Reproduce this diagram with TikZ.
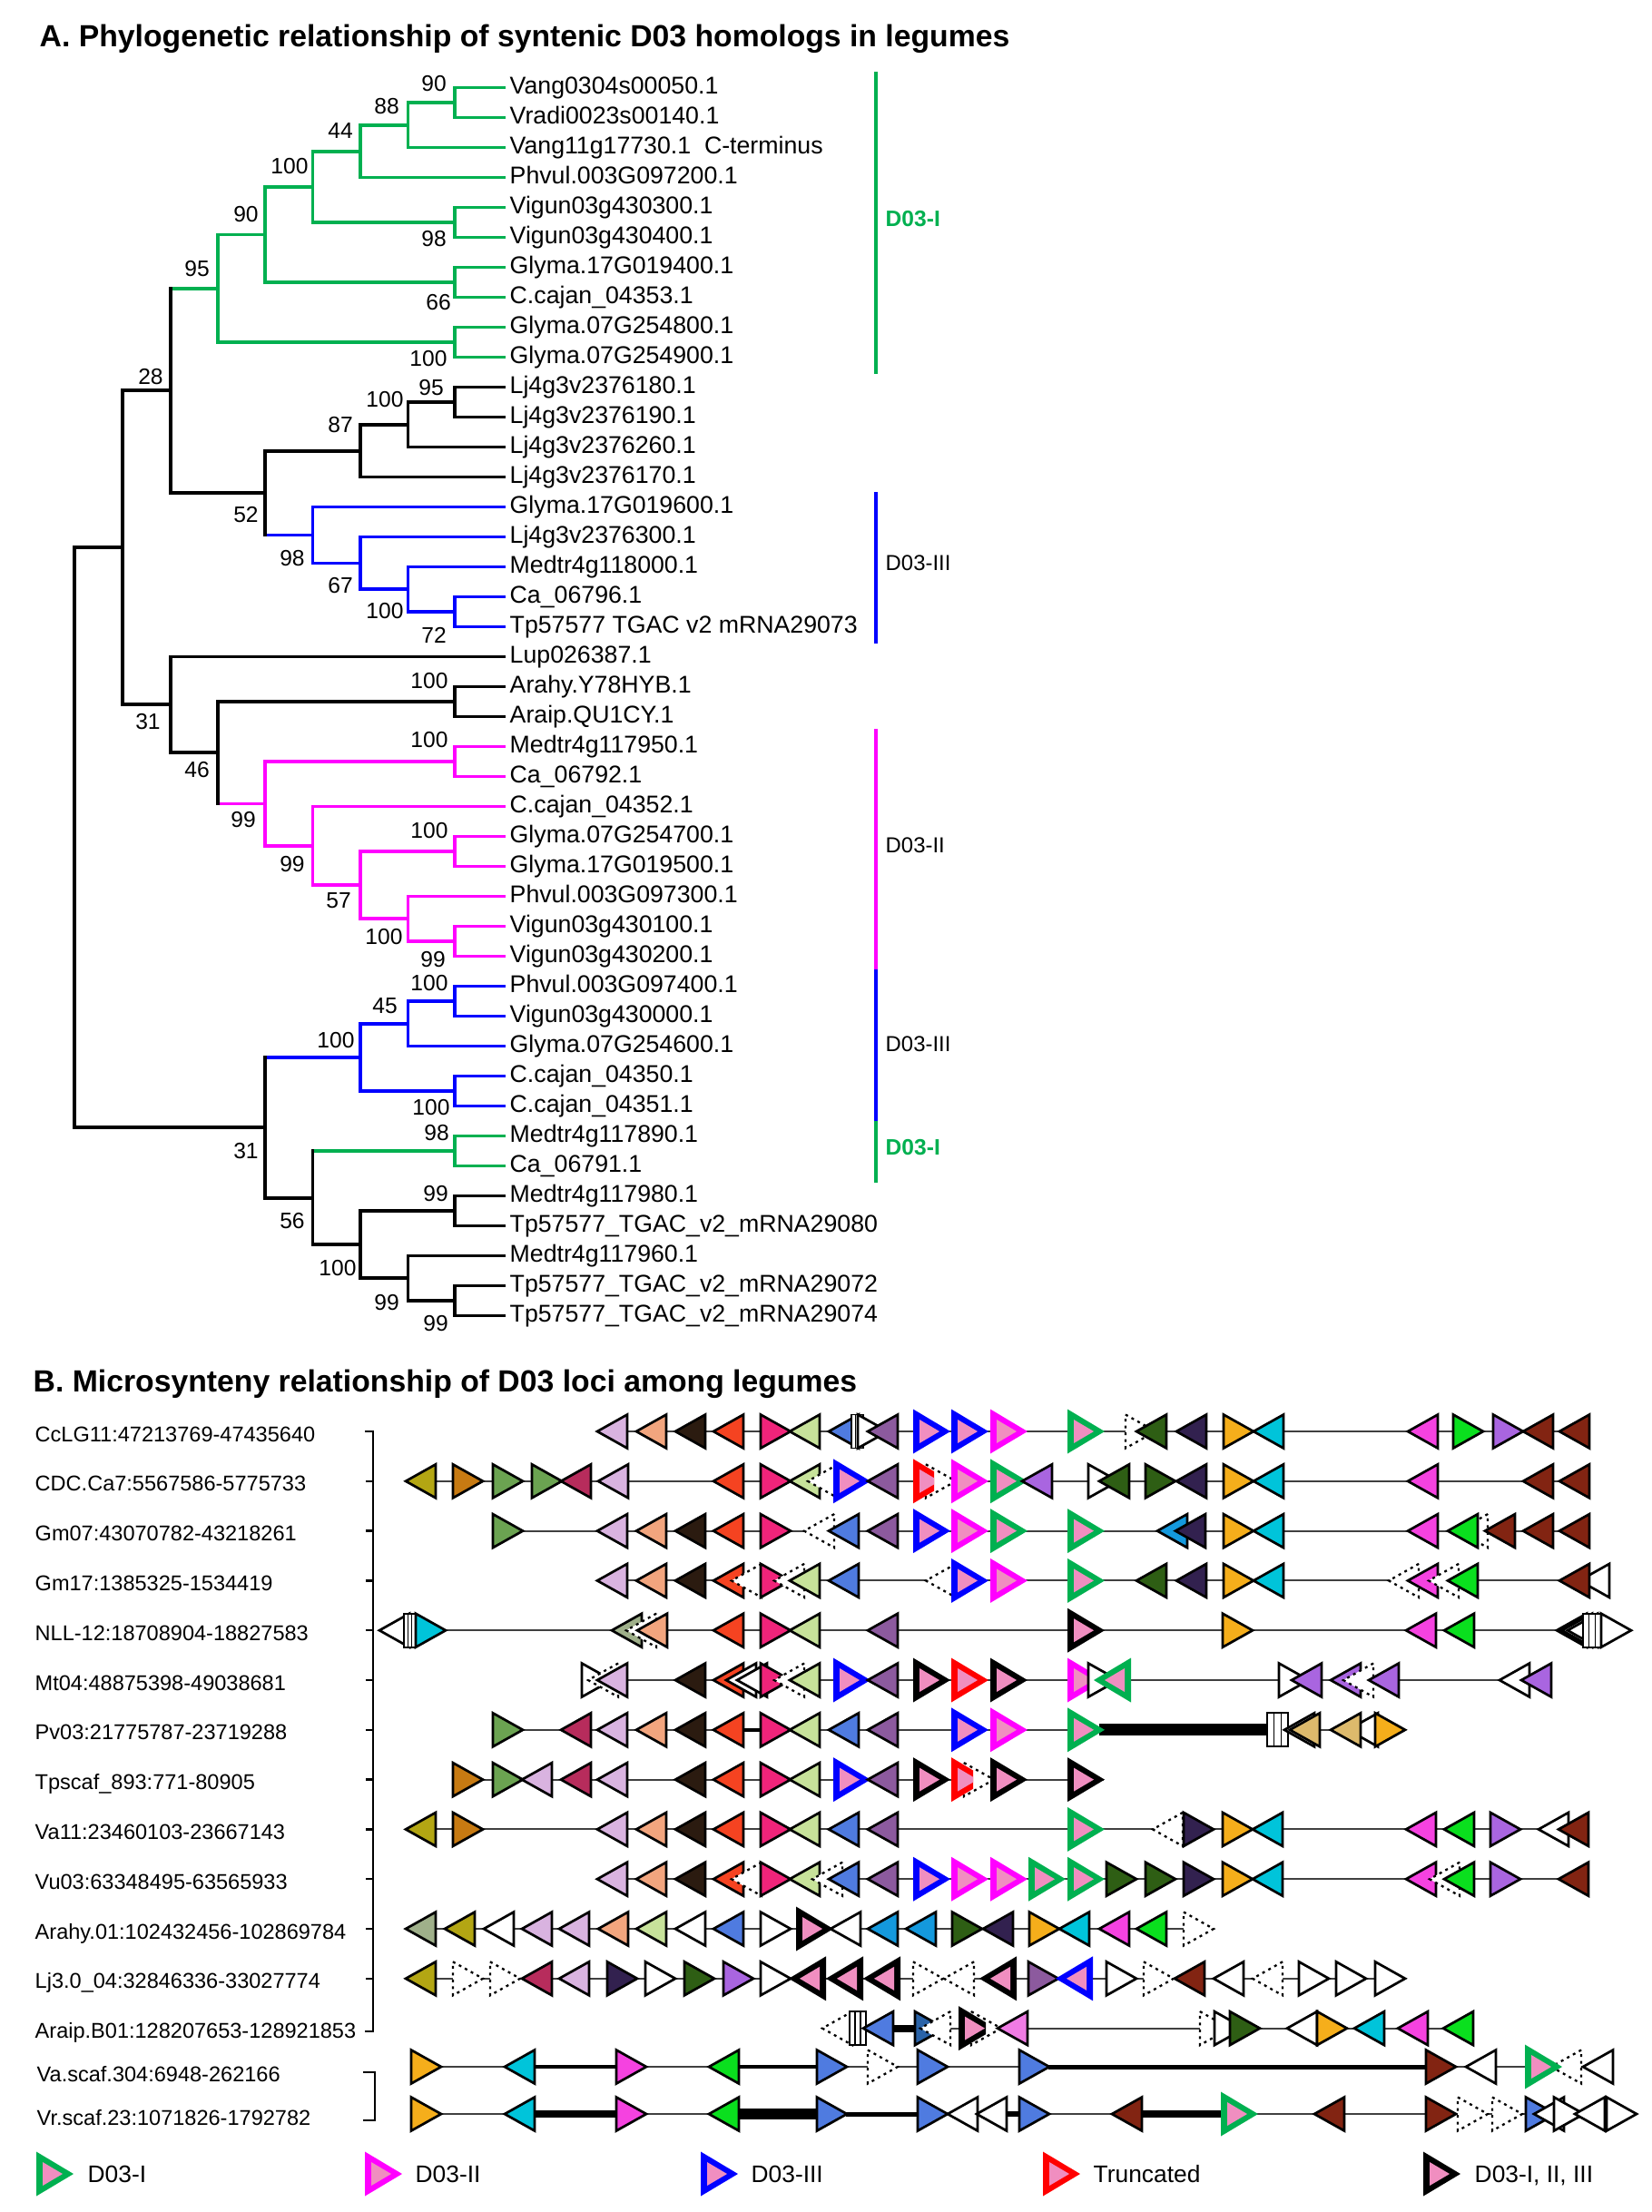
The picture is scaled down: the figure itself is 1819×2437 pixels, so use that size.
\documentclass[tikz,border=0pt]{standalone}
\usepackage{fontspec}
\setmainfont{Liberation Sans}
\usetikzlibrary{calc}
\definecolor{tk}{HTML}{000000}
\definecolor{tg}{HTML}{00B050}
\definecolor{tb}{HTML}{0000FF}
\definecolor{tm}{HTML}{FF00FF}
\definecolor{qred}{HTML}{FF0000}
\definecolor{qpink}{HTML}{F08EC0}
\definecolor{clilac}{HTML}{D9B3E0}
\definecolor{csalmon}{HTML}{F2A57E}
\definecolor{cdbrown}{HTML}{2B1B10}
\definecolor{credor}{HTML}{F54321}
\definecolor{cdeeppink}{HTML}{F0247A}
\definecolor{clgreen}{HTML}{C7E29A}
\definecolor{ccorn}{HTML}{4F7BE0}
\definecolor{cmauve}{HTML}{8C5A9E}
\definecolor{cdgreen}{HTML}{2E5E14}
\definecolor{cdpurple}{HTML}{32214F}
\definecolor{corange}{HTML}{F5AE1B}
\definecolor{ccyan}{HTML}{00C4DA}
\definecolor{cpmag}{HTML}{F542E0}
\definecolor{cgreen}{HTML}{0ADF1E}
\definecolor{cviolet}{HTML}{A965E0}
\definecolor{cdred}{HTML}{822412}
\definecolor{colive}{HTML}{B3A613}
\definecolor{cochre}{HTML}{C77A12}
\definecolor{cmgreen}{HTML}{6BA351}
\definecolor{ccrimson}{HTML}{B72C5C}
\definecolor{csage}{HTML}{9FB08A}
\definecolor{ctan}{HTML}{DDBA6C}
\definecolor{cazure}{HTML}{1499DD}
\definecolor{csteel}{HTML}{2A63A8}
\definecolor{corchid}{HTML}{F07BE4}
\tikzset{
 tl/.style={line width=0.38mm, line cap=rect},
 gene/.style={draw=black, line width=0.27mm, line join=miter},
 dgene/.style={draw=black, fill=white, line width=0.23mm, dash pattern=on 0.3mm off 0.45mm},
 trk/.style={draw=black!75, line width=0.2mm},
 brk/.style={draw=black, line width=0.25mm},
 leaflab/.style={anchor=base west, inner sep=0pt, font=\fontsize{7.6}{9}\selectfont},
 bs/.style={inner sep=0pt, font=\fontsize{7}{8}\selectfont},
 clab/.style={anchor=west, inner sep=0pt, font=\fontsize{6.8}{8}\selectfont},
 rlab/.style={anchor=base west, inner sep=0pt, font=\fontsize{6.7}{8}\selectfont},
 leg/.style={anchor=base west, inner sep=0pt, font=\fontsize{7.5}{9}\selectfont},
 ttl/.style={anchor=base west, inner sep=0pt, font=\fontsize{9.6}{11}\selectfont\bfseries},
}
\newcommand\GR[2]{\draw[gene,fill=#2] (#1,\ry-18.5) -- (#1+33,\ry) -- (#1,\ry+18.5) -- cycle;}
\newcommand\GL[2]{\draw[gene,fill=#2] (#1+33,\ry-18.5) -- (#1,\ry) -- (#1+33,\ry+18.5) -- cycle;}
\newcommand\DR[1]{\draw[dgene] (#1,\ry-18.5) -- (#1+33,\ry) -- (#1,\ry+18.5) -- cycle;}
\newcommand\DL[1]{\draw[dgene] (#1+33,\ry-18.5) -- (#1,\ry) -- (#1+33,\ry+18.5) -- cycle;}
\newcommand\QR[2]{\fill[#2] (#1,\ry-24.5) -- (#1+41,\ry) -- (#1,\ry+24.5) -- cycle; \fill[qpink] (#1+7,\ry-13) -- (#1+29,\ry) -- (#1+7,\ry+13) -- cycle;}
\newcommand\QL[2]{\fill[#2] (#1+41,\ry-24.5) -- (#1,\ry) -- (#1+41,\ry+24.5) -- cycle; \fill[qpink] (#1+34,\ry-13) -- (#1+12,\ry) -- (#1+34,\ry+13) -- cycle;}
\newcommand\QRc[3]{\begin{scope}\clip (#1-2,\ry-30) rectangle (#1+#3,\ry+30); \QR{#1}{#2}\end{scope}}
\newcommand\VB[2]{\draw[gene,fill=white,line width=0.18mm] (#1,\ry-18.5) rectangle (#2,\ry+18.5); \draw[line width=0.15mm] ({(2*#1+#2)/3},\ry-18.5) -- ({(2*#1+#2)/3},\ry+18.5) ({(#1+2*#2)/3},\ry-18.5) -- ({(#1+2*#2)/3},\ry+18.5);}
\newcommand\TrkLn[2]{\draw[trk] (#1,\ry) -- (#2,\ry);}
\newcommand\BarThk[3]{\draw[line width=#3mm] (#1,\ry) -- (#2,\ry);}
\newcommand\edgelist{%
\EdgeX{root}{nA}{tk}{tk}\EdgeX{root}{n31b}{tk}{tk}
\EdgeX{nA}{n28}{tk}{tk}\EdgeX{nA}{n31a}{tk}{tk}
\EdgeX{n28}{n95}{tk}{tg}\EdgeX{n28}{n52}{tk}{tk}
\EdgeX{n95}{n90b}{tg}{tg}\EdgeX{n95}{n100b}{tg}{tg}
\EdgeX{n90b}{n100a}{tg}{tg}\EdgeX{n90b}{n66}{tg}{tg}
\EdgeX{n100a}{n44}{tg}{tg}\EdgeX{n100a}{n98a}{tg}{tg}
\EdgeX{n44}{n88}{tg}{tg}\EdgeX{n44}{t3}{tg}{tg}
\EdgeX{n88}{n90a}{tg}{tg}\EdgeX{n88}{t2}{tg}{tg}
\EdgeX{n90a}{t0}{tg}{tg}\EdgeX{n90a}{t1}{tg}{tg}
\EdgeX{n98a}{t4}{tg}{tg}\EdgeX{n98a}{t5}{tg}{tg}
\EdgeX{n66}{t6}{tg}{tg}\EdgeX{n66}{t7}{tg}{tg}
\EdgeX{n100b}{t8}{tg}{tg}\EdgeX{n100b}{t9}{tg}{tg}
\EdgeX{n52}{n87}{tk}{tk}\EdgeX{n52}{n98b}{tk}{tb}
\EdgeX{n87}{n100c}{tk}{tk}\EdgeX{n87}{t13}{tk}{tk}
\EdgeX{n100c}{n95b}{tk}{tk}\EdgeX{n100c}{t12}{tk}{tk}
\EdgeX{n95b}{t10}{tk}{tk}\EdgeX{n95b}{t11}{tk}{tk}
\EdgeX{n98b}{t14}{tb}{tb}\EdgeX{n98b}{n67}{tb}{tb}
\EdgeX{n67}{t15}{tb}{tb}\EdgeX{n67}{n100d}{tb}{tb}
\EdgeX{n100d}{t16}{tb}{tb}\EdgeX{n100d}{n72}{tb}{tb}
\EdgeX{n72}{t17}{tb}{tb}\EdgeX{n72}{t18}{tb}{tb}
\EdgeX{n31a}{t19}{tk}{tk}\EdgeX{n31a}{n46}{tk}{tk}
\EdgeX{n46}{n100e}{tk}{tk}\EdgeX{n46}{n99a}{tk}{tm}
\EdgeX{n100e}{t20}{tk}{tk}\EdgeX{n100e}{t21}{tk}{tk}
\EdgeX{n99a}{n100f}{tm}{tm}\EdgeX{n99a}{n99b}{tm}{tm}
\EdgeX{n100f}{t22}{tm}{tm}\EdgeX{n100f}{t23}{tm}{tm}
\EdgeX{n99b}{t24}{tm}{tm}\EdgeX{n99b}{n57}{tm}{tm}
\EdgeX{n57}{n100g}{tm}{tm}\EdgeX{n57}{n100h}{tm}{tm}
\EdgeX{n100g}{t25}{tm}{tm}\EdgeX{n100g}{t26}{tm}{tm}
\EdgeX{n100h}{t27}{tm}{tm}\EdgeX{n100h}{n99c}{tm}{tm}
\EdgeX{n99c}{t28}{tm}{tm}\EdgeX{n99c}{t29}{tm}{tm}
\EdgeX{n31b}{n100k}{tk}{tb}\EdgeX{n31b}{n56}{tk}{tk}
\EdgeX{n100k}{n45}{tb}{tb}\EdgeX{n100k}{n100j}{tb}{tb}
\EdgeX{n45}{n100i}{tb}{tb}\EdgeX{n45}{t32}{tb}{tb}
\EdgeX{n100i}{t30}{tb}{tb}\EdgeX{n100i}{t31}{tb}{tb}
\EdgeX{n100j}{t33}{tb}{tb}\EdgeX{n100j}{t34}{tb}{tb}
\EdgeX{n56}{n98c}{tk}{tg}\EdgeX{n56}{n100l}{tk}{tk}
\EdgeX{n98c}{t35}{tg}{tg}\EdgeX{n98c}{t36}{tg}{tg}
\EdgeX{n100l}{n99d}{tk}{tk}\EdgeX{n100l}{n99e}{tk}{tk}
\EdgeX{n99d}{t37}{tk}{tk}\EdgeX{n99d}{t38}{tk}{tk}
\EdgeX{n99e}{t39}{tk}{tk}\EdgeX{n99e}{n99f}{tk}{tk}
\EdgeX{n99f}{t40}{tk}{tk}\EdgeX{n99f}{t41}{tk}{tk}}
\begin{document}
\begin{tikzpicture}[x=0.1mm,y=-0.1mm]
\useasboundingbox (0,0) rectangle (1819,2437);
\fill[white] (0,0) rectangle (1819,2437);
% ---------------- Part A ----------------
\node[ttl] (titleA) at (43,52) {A. Phylogenetic relationship of syntenic D03 homologs in legumes};
\foreach \i in {0,...,41} \coordinate (t\i) at (555,96.5+33*\i);
\coordinate (root) at (82,922.8);
\coordinate (nA) at (135,603.35);
\coordinate (n28) at (188,430.35);
\coordinate (n95) at (240,317.7);
\coordinate (n90b) at (292,258.41);
\coordinate (n100a) at (344.5,205.81);
\coordinate (n44) at (397,166.63);
\coordinate (n88) at (449.5,137.75);
\coordinate (n90a) at (501,113);
\coordinate (n98a) at (501,245);
\coordinate (n66) at (501,311);
\coordinate (n100b) at (501,377);
\coordinate (n52) at (292,543);
\coordinate (n87) at (397,496.6);
\coordinate (n100c) at (449.5,467.75);
\coordinate (n95b) at (501,443);
\coordinate (n98b) at (344.5,589.4);
\coordinate (n67) at (397,620.4);
\coordinate (n100d) at (449.5,649.25);
\coordinate (n72) at (501,674);
\coordinate (n31a) at (188,776.35);
\coordinate (n46) at (240,829.2);
\coordinate (n100e) at (501,773);
\coordinate (n99a) at (292,885.4);
\coordinate (n100f) at (501,839);
\coordinate (n99b) at (344.5,931.8);
\coordinate (n57) at (397,975.1);
\coordinate (n100g) at (501,938);
\coordinate (n100h) at (449.5,1012.25);
\coordinate (n99c) at (501,1037);
\coordinate (n31b) at (292,1242.25);
\coordinate (n100k) at (397,1164.9);
\coordinate (n45) at (449.5,1127.75);
\coordinate (n100i) at (501,1103);
\coordinate (n100j) at (501,1202);
\coordinate (n56) at (344.5,1319.6);
\coordinate (n98c) at (501,1268);
\coordinate (n100l) at (397,1371.1);
\coordinate (n99d) at (501,1334);
\coordinate (n99e) at (449.5,1408.25);
\coordinate (n99f) at (501,1433);
\def\EdgeX#1#2#3#4{\draw[tl,#4] (#1 |- #2) -- (#2);}
\edgelist
\def\EdgeX#1#2#3#4{\draw[tl,#3] (#1) -- (#1 |- #2);}
\edgelist
\foreach \i/\t in {0/Vang0304s00050.1,1/Vradi0023s00140.1,2/Vang11g17730.1\ \ C-terminus,3/Phvul.003G097200.1,4/Vigun03g430300.1,5/Vigun03g430400.1,6/Glyma.17G019400.1,7/C.cajan\_04353.1,8/Glyma.07G254800.1,9/Glyma.07G254900.1,10/Lj4g3v2376180.1,11/Lj4g3v2376190.1,12/Lj4g3v2376260.1,13/Lj4g3v2376170.1,14/Glyma.17G019600.1,15/Lj4g3v2376300.1,16/Medtr4g118000.1,17/Ca\_06796.1,18/Tp57577 TGAC v2 mRNA29073,19/Lup026387.1,20/Arahy.Y78HYB.1,21/Araip.QU1CY.1,22/Medtr4g117950.1,23/Ca\_06792.1,24/C.cajan\_04352.1,25/Glyma.07G254700.1,26/Glyma.17G019500.1,27/Phvul.003G097300.1,28/Vigun03g430100.1,29/Vigun03g430200.1,30/Phvul.003G097400.1,31/Vigun03g430000.1,32/Glyma.07G254600.1,33/C.cajan\_04350.1,34/C.cajan\_04351.1,35/Medtr4g117890.1,36/Ca\_06791.1,37/Medtr4g117980.1,38/Tp57577\_TGAC\_v2\_mRNA29080,39/Medtr4g117960.1,40/Tp57577\_TGAC\_v2\_mRNA29072,41/Tp57577\_TGAC\_v2\_mRNA29074}
  \node[leaflab] (l\i) at ($(t\i)+(6,7)$) {\t};
\foreach \x/\y/\v [count=\n] in {478/92/90,426/117/88,375/144/44,319/183/100,271/236/90,217/296/95,478/263/98,483/333/66,472/395/100,166/415/28,475/427/95,424/440/100,375/468/87,271/567/52,322/615/98,375/645/67,424/673/100,478/700/72,473/750/100,163/795/31,473/815/100,217/848/46,268/903/99,473/915/100,322/952/99,373/992/57,423/1032/100,477/1057/99,473/1083/100,424/1108/45,370/1146/100,475/1220/100,481/1248/98,271/1268/31,480/1315/99,322/1345/56,372/1397/100,426/1435/99,480/1458/99}
  \node[bs] (b\n) at (\x,\y) {\v};
% clade bars
\draw[tg,line width=0.32mm] (965,79) -- (965,412);
\node[clab,text=tg,font=\fontsize{7}{8}\selectfont\bfseries] (c1) at (975,241) {D03-I};
\draw[tb,line width=0.32mm] (965,542) -- (965,709);
\node[clab] (c2) at (975,620) {D03-III};
\draw[tm,line width=0.32mm] (965,803) -- (965,1068);
\node[clab] (c3) at (975,931) {D03-II};
\draw[tb,line width=0.32mm] (965,1068) -- (965,1235);
\node[clab] (c4) at (975,1150) {D03-III};
\draw[tg,line width=0.32mm] (965,1235) -- (965,1303);
\node[clab,text=tg,font=\fontsize{7}{8}\selectfont\bfseries] (c5) at (975,1264) {D03-I};
% ---------------- Part B ----------------
\node[ttl] (titleB) at (36,1533) {B. Microsynteny relationship of D03 loci among legumes};
\foreach \t [count=\k from 0] in {CcLG11:47213769-47435640,CDC.Ca7:5567586-5775733,Gm07:43070782-43218261,Gm17:1385325-1534419,NLL-12:18708904-18827583,Mt04:48875398-49038681,Pv03:21775787-23719288,Tpscaf\_893:771-80905,Va11:23460103-23667143,Vu03:63348495-63565933,Arahy.01:102432456-102869784,Lj3.0\_04:32846336-33027774,Araip.B01:128207653-128921853}
  \node[rlab] (r\k) at (38,1577+54.8*\k+11) {\t};
\node[rlab] (r13) at (40,2293) {Va.scaf.304:6948-262166};
\node[rlab] (r14) at (40,2341) {Vr.scaf.23:1071826-1792782};
% brackets
\draw[brk] (402,1577) -- (411,1577) -- (411,2238) -- (402,2238);
\foreach \k in {1,...,11} \draw[brk] (403,1577+54.8*\k) -- (411,1577+54.8*\k);
\draw[brk] (400,2283) -- (413,2283) -- (413,2336) -- (400,2336);
% row 0
\def\ry{1577}
\TrkLn{658}{1751}
\GL{658}{clilac}\GL{701}{csalmon}\GL{744}{cdbrown}\GL{786}{credor}\GR{838}{cdeeppink}\GL{870}{clgreen}\GL{913}{ccorn}\VB{938}{951}\GR{945}{white}\GL{956}{cmauve}\QR{1006}{tb}\QR{1048}{tb}\QR{1091}{tm}\QR{1176}{tg}\DR{1240}\GL{1252}{cdgreen}\GL{1296}{cdpurple}\GR{1348}{corange}\GL{1381}{ccyan}\GL{1551}{cpmag}\GR{1601}{cgreen}\GR{1645}{cviolet}\GL{1678}{cdred}\GL{1718}{cdred}
% row 1
\def\ry{1631.8}
\TrkLn{447}{1751}
\GL{447}{colive}\GR{499}{cochre}\GR{543}{cmgreen}\GR{586}{cmgreen}\GL{618}{ccrimson}\GL{659}{clilac}\GL{786}{credor}\GR{838}{cdeeppink}\GL{870}{clgreen}\DL{890}\QR{918}{tb}\GL{956}{cmauve}\DR{1020}\QRc{1006}{qred}{23}\QR{1048}{tm}\QR{1091}{tg}\GL{1126}{cviolet}\GR{1199}{white}\GL{1211}{cdgreen}\GR{1262}{cdgreen}\GL{1296}{cdpurple}\GR{1348}{corange}\GL{1381}{ccyan}\GL{1551}{cpmag}\GL{1678}{cdred}\GL{1718}{cdred}
% row 2
\def\ry{1686.6}
\TrkLn{543}{1751}
\GR{543}{cmgreen}\GL{658}{clilac}\GL{701}{csalmon}\GL{744}{cdbrown}\GL{786}{credor}\GR{838}{cdeeppink}\DL{886}\GL{913}{ccorn}\GL{956}{cmauve}\QR{1006}{tb}\QR{1048}{tm}\QR{1091}{tg}\QR{1176}{tg}\GL{1275}{cazure}\GL{1295}{cdpurple}\GR{1348}{corange}\GL{1381}{ccyan}\GL{1551}{cpmag}\DL{1606}\GL{1595}{cgreen}\GL{1636}{cdred}\GL{1678}{cdred}\GL{1718}{cdred}
% row 3
\def\ry{1741.4}
\TrkLn{658}{1773}
\GL{658}{clilac}\GL{701}{csalmon}\GL{744}{cdbrown}\GL{786}{credor}\DL{806}\GR{838}{cdeeppink}\DL{853}\GL{870}{clgreen}\GL{913}{ccorn}\DL{1020}\QR{1048}{tb}\QR{1091}{tm}\QR{1176}{tg}\GL{1252}{cdgreen}\GL{1296}{cdpurple}\GR{1348}{corange}\GL{1381}{ccyan}\DL{1530}\GL{1551}{cpmag}\DL{1574}\GL{1595}{cgreen}\GL{1740}{white}\GL{1718}{cdred}
% row 4
\def\ry{1796.2}
\TrkLn{418}{1795}
\GL{418}{white}\VB{445}{458}\GR{458}{ccyan}\GL{674}{csage}\DL{690}\GL{702}{csalmon}\GL{786}{credor}\GR{838}{cdeeppink}\GL{870}{clgreen}\GL{956}{cmauve}\QR{1176}{black}\GR{1347}{corange}\GL{1549}{cpmag}\GL{1591}{cgreen}\GL{1715}{black}\GL{1721}{white}\GL{1727}{white}\VB{1744}{1764}\GR{1764}{white}
% row 5
\def\ry{1851}
\TrkLn{641}{1707}
\GR{641}{white}\DL{648}\GL{658}{clilac}\GL{744}{cdbrown}\GL{786}{credor}\GL{800}{white}\GL{812}{white}\GR{838}{cdeeppink}\DL{853}\GL{870}{clgreen}\QR{918}{tb}\GL{956}{cmauve}\QR{1006}{black}\QR{1048}{qred}\QR{1091}{black}\QRc{1176}{tm}{24}\GR{1199}{white}\QL{1205}{tg}\GR{1409}{white}\GL{1423}{cviolet}\GL{1466}{cviolet}\DL{1480}\GL{1508}{cviolet}\GL{1652}{white}\GL{1676}{cviolet}
% row 6
\def\ry{1905.8}
\TrkLn{543}{1547}
\GR{543}{cmgreen}\GL{618}{ccrimson}\GL{658}{clilac}\GL{701}{csalmon}\GL{744}{cdbrown}\GL{786}{credor}\BarThk{819}{838}{0.45}\GR{838}{cdeeppink}\GL{870}{clgreen}\GL{913}{ccorn}\GL{956}{cmauve}\QR{1048}{tb}\QR{1091}{tm}\BarThk{1211}{1398}{1.3}\QR{1176}{tg}\VB{1396}{1419}\GL{1415}{white}\GL{1421}{ctan}\GL{1485}{white}\GL{1466}{ctan}\GR{1515}{corange}
% row 7
\def\ry{1960.6}
\TrkLn{499}{1216}
\GR{499}{cochre}\GR{543}{cmgreen}\GL{575}{clilac}\GL{618}{ccrimson}\GL{658}{clilac}\GL{744}{cdbrown}\GL{786}{credor}\GR{838}{cdeeppink}\GL{870}{clgreen}\QR{918}{tb}\GL{956}{cmauve}\QR{1006}{black}\DR{1062}\QRc{1048}{qred}{24}\QR{1091}{black}\QR{1176}{black}
% row 8
\def\ry{2015.4}
\TrkLn{447}{1751}
\GL{447}{colive}\GR{499}{cochre}\GL{658}{clilac}\GL{701}{csalmon}\GL{744}{cdbrown}\GL{786}{credor}\GR{838}{cdeeppink}\GL{870}{clgreen}\GL{913}{ccorn}\GL{956}{cmauve}\QR{1176}{tg}\DL{1270}\GR{1304}{cdpurple}\GR{1347}{corange}\GL{1380}{ccyan}\GL{1549}{cpmag}\GL{1591}{cgreen}\GR{1642}{cviolet}\GL{1695}{white}\GL{1717}{cdred}
% row 9
\def\ry{2070.2}
\TrkLn{658}{1751}
\GL{658}{clilac}\GL{701}{csalmon}\GL{744}{cdbrown}\GL{786}{credor}\DL{806}\GR{838}{cdeeppink}\GL{870}{clgreen}\DL{895}\GL{913}{ccorn}\GL{956}{cmauve}\QR{1006}{tb}\QR{1048}{tm}\QR{1091}{tm}\QR{1133}{tg}\QR{1176}{tg}\GR{1219}{cdgreen}\GR{1262}{cdgreen}\GR{1304}{cdpurple}\GR{1347}{corange}\GL{1380}{ccyan}\GL{1549}{cpmag}\DL{1575}\GL{1591}{cgreen}\GR{1642}{cviolet}\GL{1717}{cdred}
% row 10
\def\ry{2125}
\TrkLn{447}{1337}
\GL{447}{csage}\GL{490}{colive}\GL{533}{white}\GL{575}{clilac}\GL{616}{clilac}\GL{659}{csalmon}\GL{701}{clgreen}\GL{744}{white}\GL{786}{ccorn}\GR{838}{white}\QR{877}{black}\GL{915}{white}\GL{956}{cazure}\GL{998}{cazure}\GR{1049}{cdgreen}\GL{1083}{cdpurple}\GR{1134}{corange}\GL{1167}{ccyan}\GL{1211}{cpmag}\GL{1252}{cgreen}\DR{1304}
% row 11
\def\ry{2179.8}
\TrkLn{447}{1548}
\GL{447}{colive}\DR{499}\DR{540}\GL{575}{ccrimson}\GL{616}{clilac}\GR{669}{cdpurple}\GR{711}{white}\GR{754}{cdgreen}\GR{797}{cviolet}\GR{838}{white}\QL{869}{black}\QL{910}{black}\QL{951}{black}\DR{1006}\DL{1040}\QL{1079}{black}\GR{1133}{cmauve}\QL{1163}{tb}\GR{1219}{white}\DR{1260}\GL{1294}{cdred}\GL{1337}{white}\DL{1380}\GR{1431}{white}\GR{1472}{white}\GR{1515}{white}
% row 12
\def\ry{2234.6}
\TrkLn{906}{1621}
\DL{906}\VB{936}{954}\GL{951}{ccorn}\BarThk{983}{1010}{0.8}\GR{1008}{csteel}\DL{1014}\DR{1070}\QRc{1056}{black}{30}\GL{1099}{corchid}\DR{1322}\GR{1338}{white}\GR{1355}{cdgreen}\GL{1418}{white}\GR{1451}{corange}\GL{1492}{ccyan}\GL{1540}{cpmag}\GL{1590}{cgreen}
% row 13
\def\ry{2277}
\TrkLn{453}{1776}
\GR{453}{corange}\GL{556}{ccyan}\BarThk{589}{679}{0.4}\GR{679}{cpmag}\GL{781}{cgreen}\BarThk{813}{900}{0.4}\GR{900}{ccorn}\DR{956}\GR{1011}{ccorn}\BarThk{1155}{1571}{0.5}\GR{1123}{ccorn}\GR{1571}{cdred}\GL{1615}{white}\DL{1709}\QR{1680}{tg}\GL{1744}{white}
% row 14
\def\ry{2329}
\TrkLn{453}{1803}
\GR{453}{corange}\GL{556}{ccyan}\BarThk{589}{679}{0.8}\GR{679}{cpmag}\GL{781}{cgreen}\BarThk{813}{900}{1.2}\GR{900}{ccorn}\BarThk{932}{1011}{0.5}\GR{1011}{ccorn}\GL{1044}{white}\GL{1076}{white}\BarThk{1108}{1123}{0.6}\GR{1123}{ccorn}\GL{1225}{cdred}\BarThk{1258}{1345}{0.8}\QR{1345}{tg}\GL{1448}{cdred}\GR{1571}{cdred}\DR{1606}\DR{1644}\GR{1681}{ccorn}\GL{1690}{white}\GR{1712}{white}\GL{1735}{white}\GR{1770}{white}
% legend
\def\ry{2395}
\QR{40}{tg}\node[leg] (g1) at (96,2404) {D03-I};
\QR{402}{tm}\node[leg] (g2) at (457,2404) {D03-II};
\QR{772}{tb}\node[leg] (g3) at (827,2404) {D03-III};
\QR{1149}{qred}\node[leg] (g4) at (1204,2404) {Truncated};
\QR{1568}{black}\node[leg] (g5) at (1624,2404) {D03-I, II, III};
\end{tikzpicture}
\end{document}
